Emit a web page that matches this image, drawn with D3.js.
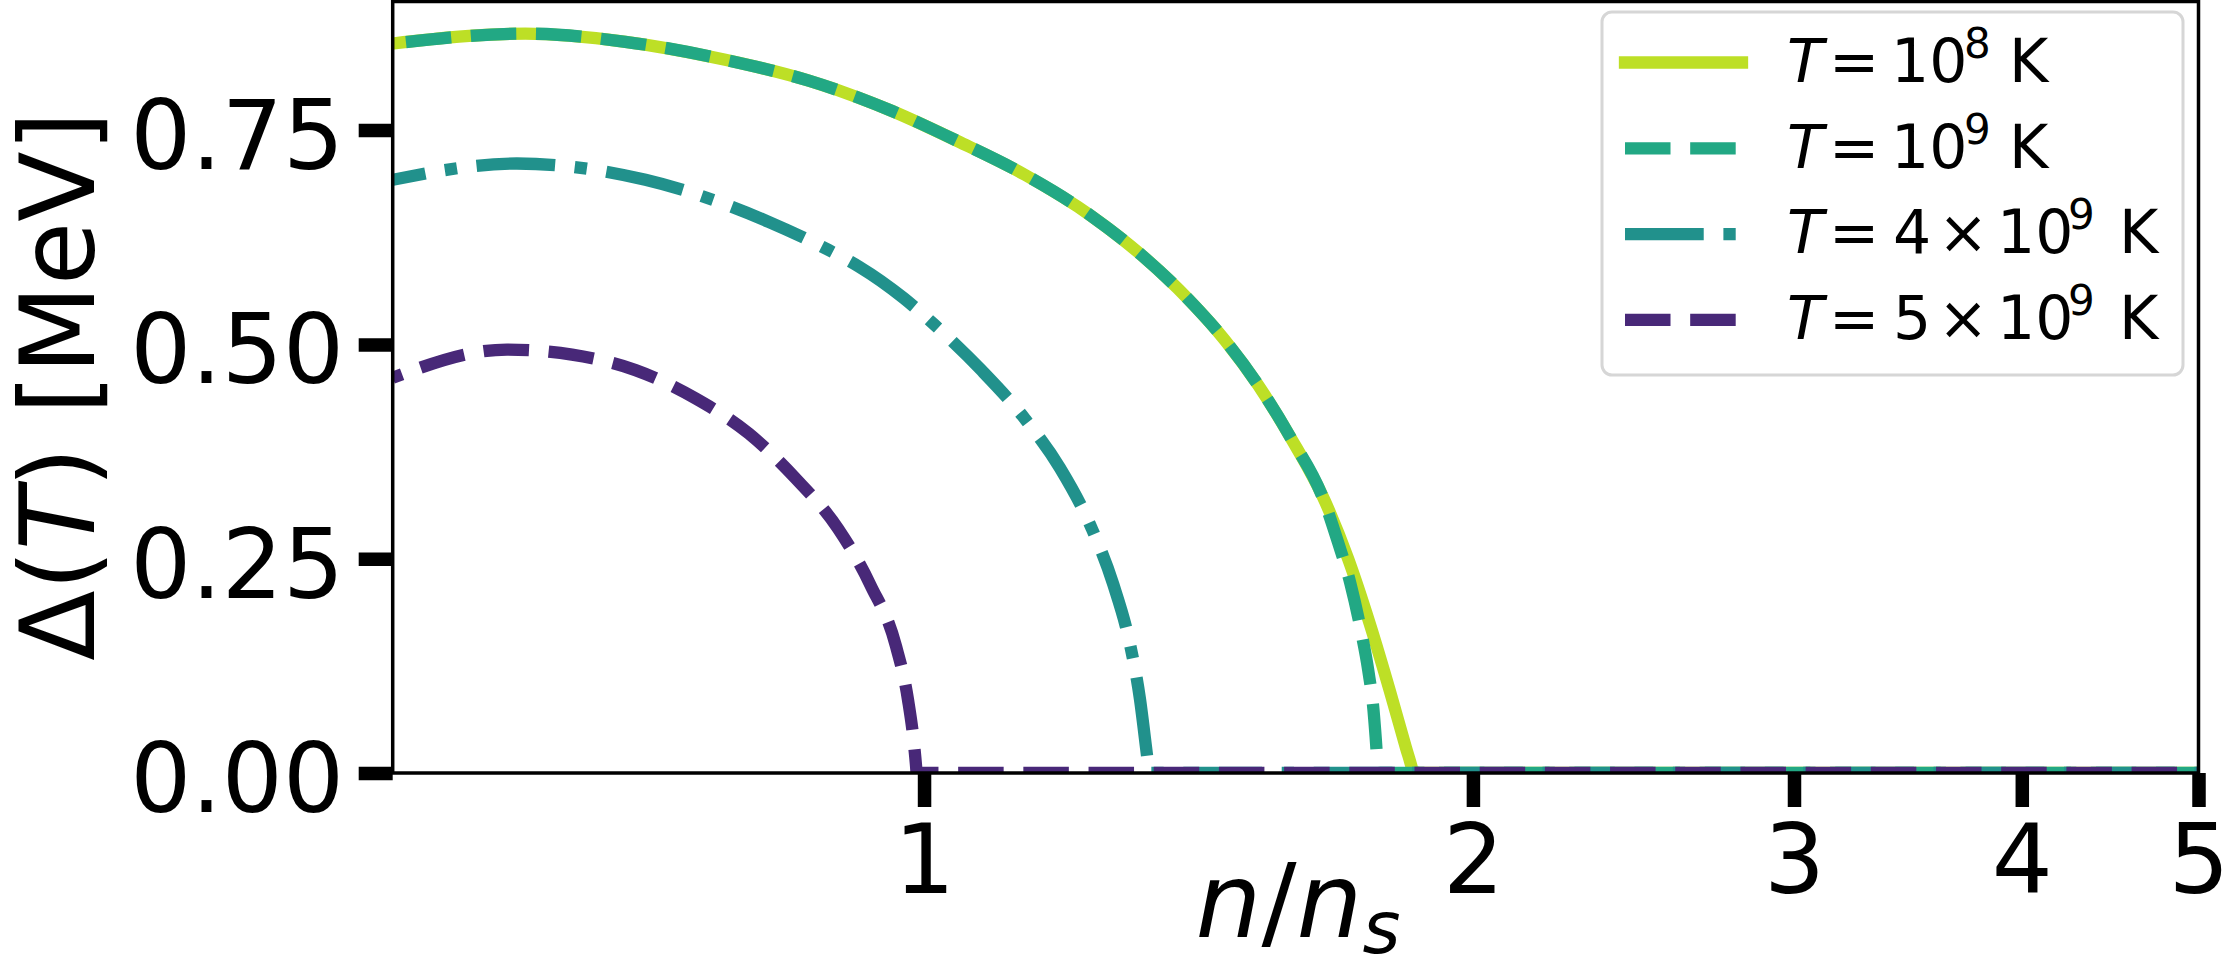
<!DOCTYPE html>
<html>
<head>
<meta charset="utf-8">
<script src="https://cdn.jsdelivr.net/npm/d3@7"></script>
<style>
  html, body { margin: 0; padding: 0; background: #ffffff; }
  svg { display: block; }
  text { font-family: "DejaVu Sans", sans-serif; fill: #000; }
</style>
</head>
<body>
<svg id="chart" width="2228" height="960"></svg>
<script>
// ---------------- data ----------------
const seriesNames = ["T1e8", "T1e9", "T4e9", "T5e9"];
const legendCoef = [null, null, "4", "5"];
const legendExp = ["8", "9", "9", "9"];
const seriesColors = ["#bddf26", "#22a884", "#21918c", "#482878"];
const seriesStyles = ["solid", "dashed", "dashdot", "dashed"];

const xTickValues = [1, 2, 3, 4, 5];
const xTickLabels = ["1", "2", "3", "4", "5"];
const yTickValues = [0, 0.25, 0.5, 0.75];
const yTickLabels = ["0.00", "0.25", "0.50", "0.75"];

const n_T1e8 = [0.5112, 0.6044, 0.6858, 0.7780, 0.8645, 0.9208, 0.9604, 1.0448, 1.1364, 1.2362, 1.3167, 1.3975, 1.4624, 1.5246, 1.5877, 1.6594, 1.7085, 1.7565, 1.8015, 1.8380, 1.8521, 1.8543, 5.0];
const gap_T1e8 = [0.851, 0.8625, 0.853, 0.832, 0.8076, 0.7878, 0.7723, 0.7365, 0.6976, 0.6493, 0.6038, 0.5518, 0.5048, 0.4528, 0.3923, 0.3167, 0.2497, 0.1727, 0.0945, 0.0292, 0.0047, 0.0, 0.0];

const n_T1e9 = [0.5112, 0.6044, 0.6858, 0.7780, 0.8645, 0.9208, 0.9604, 1.0448, 1.1364, 1.2362, 1.3167, 1.3975, 1.4624, 1.5246, 1.5877, 1.6594, 1.6865, 1.7130, 1.7369, 1.7522, 1.7655, 1.7728, 1.7733, 5.0];
const gap_T1e9 = [0.851, 0.8625, 0.853, 0.832, 0.8076, 0.7878, 0.7723, 0.7365, 0.6976, 0.6493, 0.6038, 0.5518, 0.5048, 0.4528, 0.3923, 0.3144, 0.2695, 0.2217, 0.1645, 0.1202, 0.0642, 0.006, 0.0, 0.0];

const n_T4e9 = [0.5112, 0.598, 0.7034, 0.8218, 0.8866, 0.9208, 0.9747, 1.0131, 1.0750, 1.1360, 1.1873, 1.2357, 1.2700, 1.2971, 1.3136, 1.3236, 1.3280, 1.3286, 5.0];
const gap_T4e9 = [0.692, 0.711, 0.692, 0.643, 0.610, 0.591, 0.554, 0.523, 0.470, 0.413, 0.3558, 0.2856, 0.220, 0.1499, 0.0857, 0.0297, 0.004, 0.0, 0.0];

const n_T5e9 = [0.5112, 0.5906, 0.6411, 0.6946, 0.7493, 0.8015, 0.8500, 0.8971, 0.9347, 0.9652, 0.9800, 0.9875, 0.9903, 0.9906, 5.0];
const gap_T5e9 = [0.461, 0.494, 0.488, 0.470, 0.437, 0.396, 0.344, 0.285, 0.219, 0.148, 0.0852, 0.0327, 0.004, 0.0, 0.0];

const seriesN = [n_T1e8, n_T1e9, n_T4e9, n_T5e9];
const seriesGap = [gap_T1e8, gap_T1e9, gap_T4e9, gap_T5e9];

// ---------------- layout ----------------
const plot = { left: 392.7, right: 2198.5, top: 1.5, bottom: 773 };
const LW = 12.3;
const dashPatterns = {
  solid: null,
  dashed: [3.7 * LW, 1.6 * LW].join(" "),
  dashdot: [6.4 * LW, 1.6 * LW, 1.0 * LW, 1.6 * LW].join(" ")
};
const dashOffsets = [0, 51.9, 45.4, 35.5];

const svg = d3.select("#chart");

const x = d3.scaleLog().domain([0.5112, 5]).range([plot.left, plot.right]);
const y = d3.scaleLinear().domain([0, 0.9]).range([plot.bottom, plot.top]);

svg.append("defs").append("clipPath").attr("id", "plotclip")
  .append("rect")
  .attr("x", plot.left).attr("y", plot.top)
  .attr("width", plot.right - plot.left).attr("height", plot.bottom - plot.top);

// ---------------- lines ----------------
const lineGen = d3.line()
  .x(d => x(d[0]))
  .y(d => y(d[1]))
  .curve(d3.curveMonotoneX);

const linesG = svg.append("g").attr("clip-path", "url(#plotclip)");
seriesNames.forEach((name, i) => {
  const pts = seriesN[i].map((n, k) => [n, seriesGap[i][k]]);
  const style = seriesStyles[i];
  const p = linesG.append("path")
    .attr("d", lineGen(pts))
    .attr("fill", "none")
    .attr("stroke", seriesColors[i])
    .attr("stroke-width", LW)
    .attr("stroke-linejoin", "round");
  if (style === "solid") {
    p.attr("stroke-linecap", "square");
  } else {
    p.attr("stroke-linecap", "butt")
     .attr("stroke-dasharray", dashPatterns[style])
     .attr("stroke-dashoffset", dashOffsets[i]);
  }
});

// ---------------- spines ----------------
svg.append("rect")
  .attr("x", plot.left).attr("y", plot.top)
  .attr("width", plot.right - plot.left).attr("height", plot.bottom - plot.top)
  .attr("fill", "none").attr("stroke", "#000").attr("stroke-width", 3.5);

// ---------------- axes ----------------
const TICK_LEN = 34, TICK_W = 13.5, TICK_FONT = 96;

const xAxis = d3.axisBottom(x)
  .tickValues(xTickValues)
  .tickFormat((d, i) => xTickLabels[i])
  .tickSize(TICK_LEN)
  .tickPadding(18);
const gx = svg.append("g").attr("transform", `translate(0,${plot.bottom})`).call(xAxis);
gx.select(".domain").remove();
gx.selectAll(".tick line").attr("stroke", "#000").attr("stroke-width", TICK_W);
gx.selectAll(".tick text")
  .attr("font-family", "DejaVu Sans")
  .attr("font-size", TICK_FONT)
  .attr("fill", "#000");

const yAxis = d3.axisLeft(y)
  .tickValues(yTickValues)
  .tickFormat((d, i) => yTickLabels[i])
  .tickSize(TICK_LEN)
  .tickPadding(14.7);
const gy = svg.append("g").attr("transform", `translate(${plot.left},0)`).call(yAxis);
gy.select(".domain").remove();
gy.selectAll(".tick line").attr("stroke", "#000").attr("stroke-width", TICK_W);
gy.selectAll(".tick text")
  .attr("font-family", "DejaVu Sans")
  .attr("font-size", TICK_FONT)
  .attr("dy", "0.40em")
  .attr("fill", "#000");

// ---------------- axis labels ----------------
const yl = svg.append("text")
  .attr("transform", "translate(94,386) rotate(-90)")
  .attr("text-anchor", "middle")
  .attr("font-size", 103);
yl.append("tspan").text("Δ(");
yl.append("tspan").attr("font-style", "italic").text("T");
yl.append("tspan").text(") [MeV]");

const xl = svg.append("text")
  .attr("x", 1298).attr("y", 937)
  .attr("text-anchor", "middle")
  .attr("font-size", 104);
xl.append("tspan").attr("font-style", "italic").text("n");
xl.append("tspan").text("/");
xl.append("tspan").attr("font-style", "italic").text("n");
xl.append("tspan").attr("font-style", "italic").attr("font-size", 73).attr("dy", 16).text("s");

// ---------------- legend ----------------
const legend = svg.append("g");
legend.append("rect")
  .attr("x", 1602).attr("y", 12)
  .attr("width", 2183 - 1602).attr("height", 375 - 12)
  .attr("rx", 10).attr("ry", 10)
  .attr("fill", "#ffffff").attr("fill-opacity", 0.8)
  .attr("stroke", "#d6d6d6").attr("stroke-width", 3);

const LEG_FONT = 60, SUP_FONT = 42;
seriesNames.forEach((name, i) => {
  const cy = 62.5 + i * 85.8;
  const base = cy + 19.2;
  const style = seriesStyles[i];
  const hl = legend.append("line")
    .attr("x1", 1625).attr("x2", 1742)
    .attr("y1", cy).attr("y2", cy)
    .attr("stroke", seriesColors[i])
    .attr("stroke-width", LW);
  if (style === "solid") {
    hl.attr("stroke-linecap", "square");
  } else {
    hl.attr("stroke-linecap", "butt").attr("stroke-dasharray", dashPatterns[style]);
  }

  const t = legend.append("text").attr("y", base).attr("font-size", LEG_FONT);
  t.append("tspan").attr("x", 1787).attr("font-style", "italic").text("T");
  t.append("tspan").attr("x", 1829).text("=");
  let xs;
  if (legendCoef[i] !== null) {
    t.append("tspan").attr("x", 1893).text(legendCoef[i]);
    t.append("tspan").attr("x", 1938).text("×");
    xs = { ten: 1997, sup: 2068, k: 2119 };
  } else {
    xs = { ten: 1891, sup: 1964, k: 2009 };
  }
  t.append("tspan").attr("x", xs.ten).text("10");
  t.append("tspan").attr("x", xs.sup).attr("y", base - 24).attr("font-size", SUP_FONT).text(legendExp[i]);
  t.append("tspan").attr("x", xs.k).attr("y", base).text("K");
});
</script>
</body>
</html>
